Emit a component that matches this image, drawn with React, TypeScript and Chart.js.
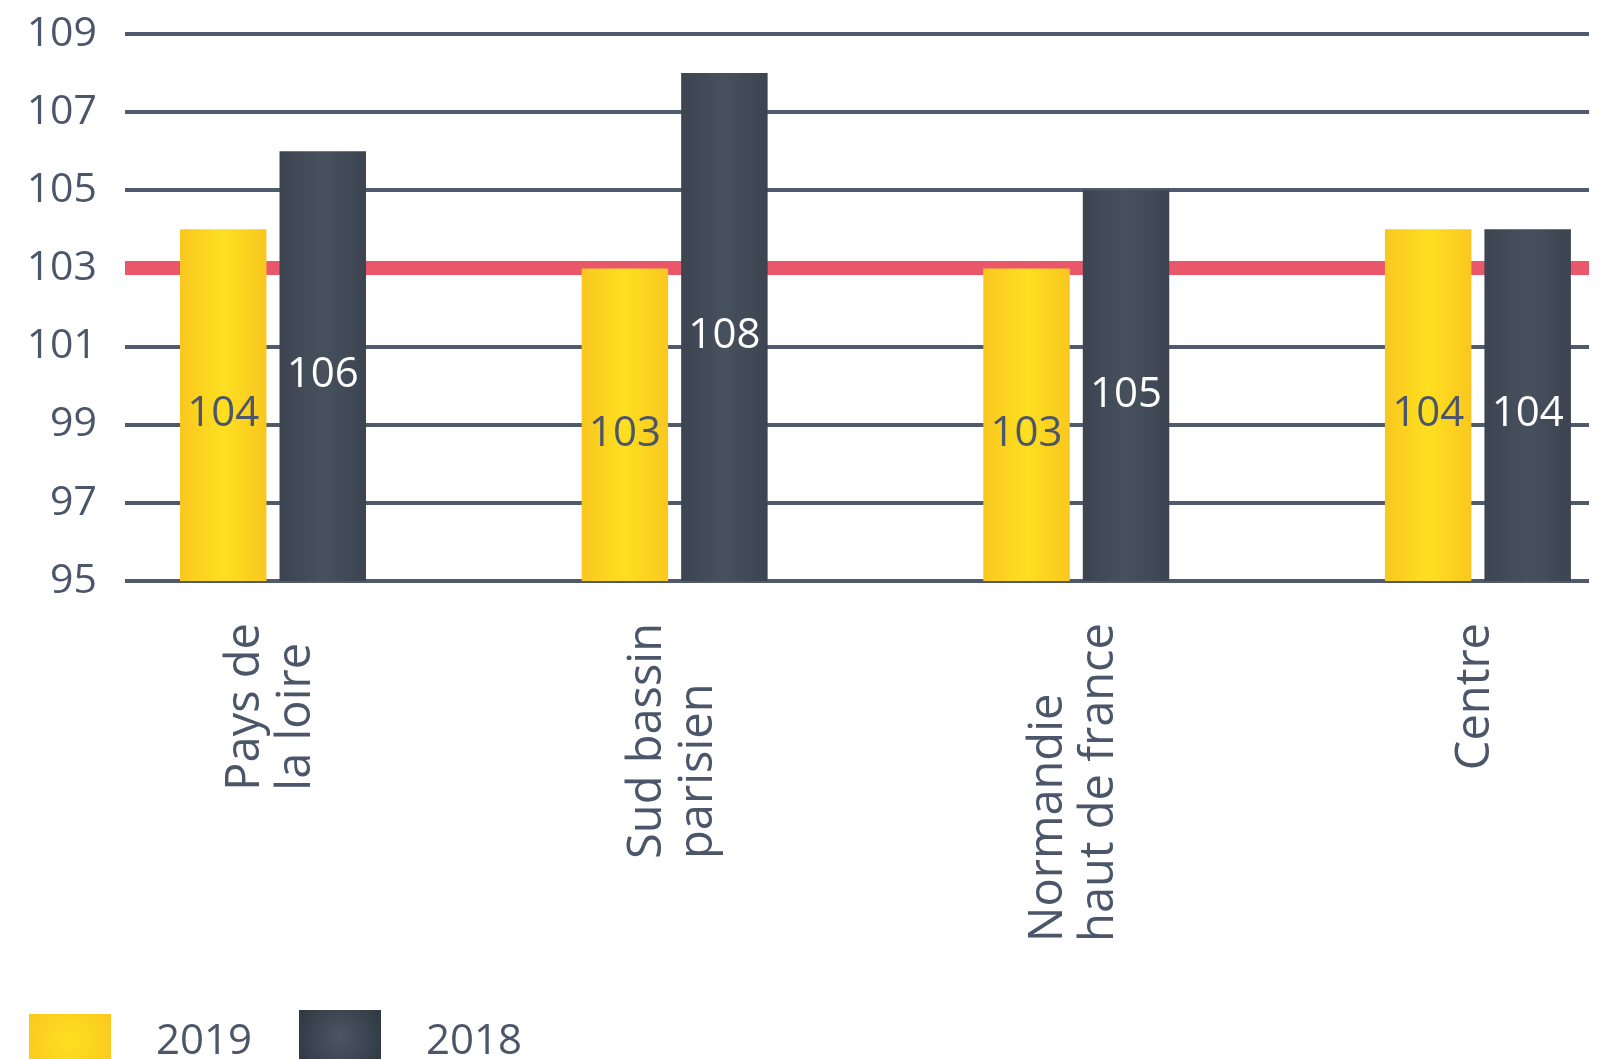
import React, { useEffect, useRef } from "react";
import { Chart, registerables } from "chart.js";

Chart.register(...registerables);

// ---------- data ----------
const CATEGORIES: string[][] = [
  ["Pays de", "la loire"],
  ["Sud bassin", "parisien"],
  ["Normandie", "haut de france"],
  ["Centre"],
];
const SERIES_2019 = [104, 103, 103, 104];
const SERIES_2018 = [106, 108, 105, 104];
const SERIES_LABELS = ["2019", "2018"];
const Y_MIN = 95;
const Y_MAX = 109;
const Y_STEP = 2;
const TARGET_VALUE = 103;

// ---------- style ----------
const FONT = "'Open Sans', 'Noto Sans', sans-serif";
const TEXT = "#4c566a";
const GRID = "#4f5a6c";
const RED = "#ea576b";
const CAT_PCT = 0.4955;
const BAR_PCT = 0.869;

const YELLOW_EDGE = "#f9c71f";
const YELLOW_MID = "#fedf21";
const DARK_EDGE = "#3c4450";
const DARK_MID = "#47515e";

function barCenter(chart: any, dsIndex: number, index: number) {
  const xs = chart.scales.x;
  const unit = xs.getPixelForValue(1) - xs.getPixelForValue(0);
  const chunk = (unit * CAT_PCT) / 2;
  const half = (chunk * BAR_PCT) / 2;
  const cx = xs.getPixelForValue(index) + (dsIndex === 0 ? -chunk / 2 : chunk / 2);
  return { cx, half };
}

function barFill(dsIndex: number) {
  const edge = dsIndex === 0 ? YELLOW_EDGE : DARK_EDGE;
  const mid = dsIndex === 0 ? YELLOW_MID : DARK_MID;
  return (ctx: any) => {
    const chart = ctx.chart;
    if (!chart.chartArea || !chart.scales?.x || ctx.dataIndex === undefined) return mid;
    const { cx, half } = barCenter(chart, dsIndex, ctx.dataIndex);
    if (!isFinite(cx)) return mid;
    const g = chart.ctx.createLinearGradient(cx - half, 0, cx + half, 0);
    g.addColorStop(0, edge);
    g.addColorStop(0.5, mid);
    g.addColorStop(1, edge);
    return g;
  };
}

const valueLabelsPlugin = {
  id: "barValueText",
  afterDraw(chart: any) {
    const c = chart.ctx;
    const ys = chart.scales.y;
    const series = [SERIES_2019, SERIES_2018];
    c.save();
    c.font = `42px ${FONT}`;
    c.textAlign = "center";
    c.textBaseline = "middle";
    series.forEach((vals, di) => {
      const meta = chart.getDatasetMeta(di);
      c.fillStyle = di === 0 ? TEXT : "#ffffff";
      vals.forEach((v, i) => {
        const el: any = meta && meta.data ? meta.data[i] : null;
        const x = el && isFinite(el.x) ? el.x : barCenter(chart, di, i).cx;
        const top = ys.getPixelForValue(v);
        const base = ys.getPixelForValue(Y_MIN);
        c.fillText(String(v), x, (top + base) / 2 + 9);
      });
    });
    c.restore();
  },
};

const categoryLabelsPlugin = {
  id: "categoryLabels",
  afterDraw(chart: any) {
    const ctx = chart.ctx;
    const xs = chart.scales.x;
    const top = chart.chartArea.bottom + 42;
    const gap = 51;
    ctx.save();
    ctx.font = `47px ${FONT}`;
    ctx.fillStyle = TEXT;
    ctx.textAlign = "left";
    ctx.textBaseline = "middle";
    CATEGORIES.forEach((lines, i) => {
      const x = xs.getPixelForValue(i);
      const maxW = Math.max(...lines.map((l) => ctx.measureText(l).width));
      const startY = top + maxW;
      lines.forEach((line, j) => {
        const lx = x + (j - (lines.length - 1) / 2) * gap - 2;
        ctx.save();
        ctx.translate(lx, startY);
        ctx.rotate(-Math.PI / 2);
        ctx.fillText(line, 0, 0);
        ctx.restore();
      });
    });
    ctx.restore();
  },
};

const legendPlugin = {
  id: "customLegend",
  afterDraw(chart: any) {
    const ctx = chart.ctx;
    const boxX = [29, 299];
    const boxTop = [1014, 1010];
    const textX = [156, 426];
    const colors = [
      [YELLOW_MID, YELLOW_EDGE],
      ["#4b5563", "#2f3641"],
    ];
    ctx.save();
    chart.data.datasets.forEach((ds: any, i: number) => {
      const bx = boxX[i];
      const by = boxTop[i];
      const w = 82;
      const h = 60;
      const g = ctx.createRadialGradient(bx + w / 2, by + 27, 2, bx + w / 2, by + 27, 50);
      g.addColorStop(0, colors[i][0]);
      g.addColorStop(1, colors[i][1]);
      ctx.fillStyle = g;
      ctx.fillRect(bx, by, w, h);
      ctx.fillStyle = TEXT;
      ctx.font = `42px ${FONT}`;
      ctx.textAlign = "left";
      ctx.textBaseline = "alphabetic";
      ctx.fillText(ds.label, textX[i], 1054);
    });
    ctx.restore();
  },
};

export default function App() {
  const ref = useRef<HTMLCanvasElement | null>(null);

  useEffect(() => {
    if (!ref.current) return;
    const chart = new Chart(ref.current, {
      type: "bar",
      data: {
        datasets: [
          {
            label: SERIES_LABELS[0],
            data: SERIES_2019.map((v, i) => ({ x: i, y: v })),
            backgroundColor: barFill(0),
            borderWidth: 0,
            categoryPercentage: CAT_PCT,
            barPercentage: BAR_PCT,
          },
          {
            label: SERIES_LABELS[1],
            data: SERIES_2018.map((v, i) => ({ x: i, y: v })),
            backgroundColor: barFill(1),
            borderWidth: 0,
            categoryPercentage: CAT_PCT,
            barPercentage: BAR_PCT,
          },
        ],
      },
      options: {
        responsive: false,
        animation: false,
        layout: { padding: { top: 34, right: 21, left: 0, bottom: 0 } },
        plugins: {
          legend: { display: false },
          tooltip: { enabled: false },
        },
        scales: {
          x: {
            type: "linear",
            min: -0.3685,
            max: 3.2766,
            bounds: "data",
            offset: false,
            grid: { display: false },
            border: { display: false },
            ticks: { display: false },
            afterBuildTicks: (s: any) => {
              s.ticks = CATEGORIES.map((_, i) => ({ value: i }));
            },
            afterFit: (s: any) => {
              s.height = 478;
              s.paddingLeft = 0;
              s.paddingRight = 0;
            },
          },
          y: {
            min: Y_MIN,
            max: Y_MAX,
            border: { display: false },
            grid: {
              drawTicks: false,
              color: (c: any) => (c.tick && c.tick.value === TARGET_VALUE ? RED : GRID),
              lineWidth: (c: any) => (c.tick && c.tick.value === TARGET_VALUE ? 14 : 4),
            },
            ticks: {
              stepSize: Y_STEP,
              padding: 28,
              color: TEXT,
              font: { family: FONT, size: 41 },
            },
            afterFit: (s: any) => {
              s.width = 125;
              s.paddingTop = 0;
              s.paddingBottom = 0;
            },
          },
        },
      } as any,
      plugins: [valueLabelsPlugin, categoryLabelsPlugin, legendPlugin],
    });
    return () => chart.destroy();
  }, []);

  return (
    <div style={{ position: "fixed", left: 0, top: 0, width: 1610, height: 1059, background: "#fff" }}>
      <canvas ref={ref} width={1610} height={1059} style={{ display: "block" }} />
    </div>
  );
}
